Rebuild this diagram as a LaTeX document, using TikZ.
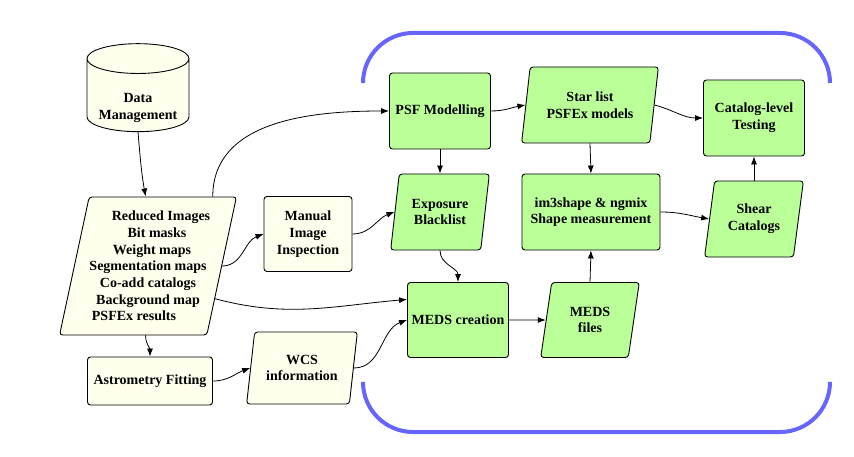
\documentclass[tikz,border=0pt]{standalone}
\usepackage{fontspec}
\setmainfont{Liberation Serif}
\usetikzlibrary{shapes.geometric,arrows.meta}
\definecolor{cream}{HTML}{FFFFEE}
\definecolor{lgreen}{HTML}{BBFF99}
\definecolor{bracket}{HTML}{6666FF}
\begin{document}
\begin{tikzpicture}[x=1pt,y=1pt,>={Latex[length=8pt,width=6pt]},
  font=\bfseries\fontsize{14}{16.7}\selectfont,
  box/.style={draw,line width=.9pt,rounded corners=3,align=center,inner sep=2},
  inbox/.style={box,fill=cream},
  outbox/.style={box,fill=lgreen},
  para/.style={trapezium,trapezium left angle=78,trapezium right angle=102,trapezium stretches=true},
  flow/.style={->,line width=.8pt}]
\useasboundingbox (0,0) rectangle (854,456);
\draw[line width=4,bracket,rounded corners=50] (363,373)--(363,423)--(830,423)--(830,373);
\draw[line width=4,bracket,rounded corners=50] (363,73)--(363,24)--(830,24)--(830,73);
\node[cylinder,shape border rotate=90,aspect=.35,draw,line width=.9pt,fill=cream,minimum width=102,minimum height=88,align=center,
  label={[align=center,yshift=-10pt]center:Data\\Management}] (data) at (138,358) {\phantom{Data}\\\phantom{Management}};
\node[inbox,para,minimum width=177,minimum height=138,inner xsep=-14] (reduced) at (148,190) {\hspace*{26pt}Reduced Images\\\hspace*{18pt}Bit masks\\\hspace*{8pt}Weight maps\\Segmentation maps\\Co-add catalogs\hspace*{10pt}\\Background map\hspace*{20pt}\\PSFEx results\hspace*{28pt}};
\node[inbox,minimum width=88,minimum height=75] (manual) at (308,222) {Manual\\Image\\Inspection};
\node[inbox,minimum width=125,minimum height=48] (astro) at (150,75) {Astrometry Fitting};
\node[inbox,para,minimum width=111,minimum height=72] (wcs) at (302,88) {WCS\\information};
\node[outbox,minimum width=101,minimum height=76] (psf) at (440,345) {PSF Modelling};
\node[outbox,para,minimum width=137,minimum height=76] (stars) at (590,351) {Star list\\PSFEx models};
\node[outbox,minimum width=101,minimum height=76] (catalog) at (754,338) {Catalog-level\\Testing};
\node[outbox,para,minimum width=99,minimum height=76] (blacklist) at (440,244) {Exposure\\Blacklist};
\node[outbox,minimum width=138,minimum height=76] (shape) at (591,244) {im3shape \& ngmix\\Shape measurement};
\node[outbox,para,minimum width=99,minimum height=76] (shear) at (754,237) {Shear\\Catalogs};
\node[outbox,minimum width=101,minimum height=75] (meds) at (458,136) {MEDS creation};
\node[outbox,para,minimum width=99,minimum height=75] (medsfiles) at (590,136) {MEDS\\files};
\draw[flow] (data.south) to[out=-85,in=100] (reduced.92);
\draw[flow] (reduced.47) to[out=90,in=180] (psf.west);
\draw[flow] (reduced.east) to[out=0,in=200] (manual.west);
\draw[flow] (reduced.-26) to[out=-15,in=185] (meds.158);
\draw[flow] (reduced.-92) to[out=-90,in=90] (astro.north);
\draw[flow] (astro.east) to[out=0,in=200] (wcs.west);
\draw[flow] (wcs.east) to[out=0,in=200] (meds.west);
\draw[flow] (manual.east) to[out=0,in=200] (blacklist.west);
\draw[flow] (blacklist.-90) to[out=-90,in=90] (meds.north);
\draw[flow] (psf.east) to[out=0,in=190] (stars.west);
\draw[flow] (stars.east) to[out=-15,in=180] (catalog.west);
\draw[flow] (psf.south) -- (blacklist.90);
\draw[flow] (stars.-90) -- (shape.north);
\draw[flow] (meds.east) -- (medsfiles.west);
\draw[flow] (medsfiles.90) -- (shape.south);
\draw[flow] (shape.east) to[out=0,in=170] (shear.west);
\draw[flow] (shear.90) -- (catalog.south);
\end{tikzpicture}
\end{document}
